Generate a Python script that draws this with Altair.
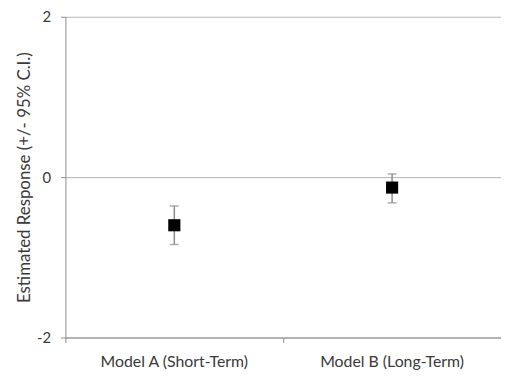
import altair as alt
import pandas as pd

models = ["Model A (Short-Term)", "Model B (Long-Term)"]
estimate = [-0.60, -0.13]
lower = [-0.84, -0.32]
upper = [-0.36, 0.04]

df = pd.DataFrame({"model": models, "est": estimate, "lo": lower, "hi": upper})

FONT = "Lato"
TXT = "#3a3a3a"
x = alt.X("model:N", title=None, sort=models,
          scale=alt.Scale(paddingInner=0, paddingOuter=0),
          axis=alt.Axis(labelAngle=0, bandPosition=0, tickSize=5, labelPadding=11,
                        labelFontSize=16, labelColor=TXT, labelFont=FONT,
                        domainColor="#8c8c8c", tickColor="#8c8c8c", grid=False))
yscale = alt.Scale(domain=[-2, 2], nice=False, zero=False)
yaxis = alt.Axis(values=[-2, 0, 2],
                 labelExpr="datum.value < 0 ? '-' + abs(datum.value) : '' + datum.value",
                 title="Estimated Response (+/- 95% C.I.)",
                 titleFont=FONT, titleFontSize=17, titleFontWeight="normal",
                 titleColor=TXT, titlePadding=3,
                 labelFont=FONT, labelFontSize=15, labelColor=TXT, labelPadding=10,
                 tickSize=5, tickColor="#8c8c8c", domainColor="#8c8c8c",
                 gridColor="#b4b4b4", gridWidth=1)

base = alt.Chart(df)
rules = base.mark_rule(color="#8c8c8c", strokeWidth=1.5).encode(
    x=x, y=alt.Y("lo:Q", scale=yscale, axis=yaxis), y2="hi:Q")
cap_lo = base.mark_tick(color="#8c8c8c", size=9, thickness=1.5, orient="horizontal").encode(
    x=x, y=alt.Y("lo:Q", scale=yscale))
cap_hi = base.mark_tick(color="#8c8c8c", size=9, thickness=1.5, orient="horizontal").encode(
    x=x, y=alt.Y("hi:Q", scale=yscale))
pts = base.mark_square(color="black", opacity=1, size=150).encode(
    x=x, y=alt.Y("est:Q", scale=yscale))

chart = alt.layer(rules, cap_lo, cap_hi, pts).properties(
    width=440, height=324,
    autosize=alt.AutoSizeParams(type="none"),
    padding={"left": 58, "top": 7, "right": 0, "bottom": 36},
    background="white",
).configure_view(stroke=None)

chart.save("out.html", embed_options={"renderer": "svg", "actions": False})
